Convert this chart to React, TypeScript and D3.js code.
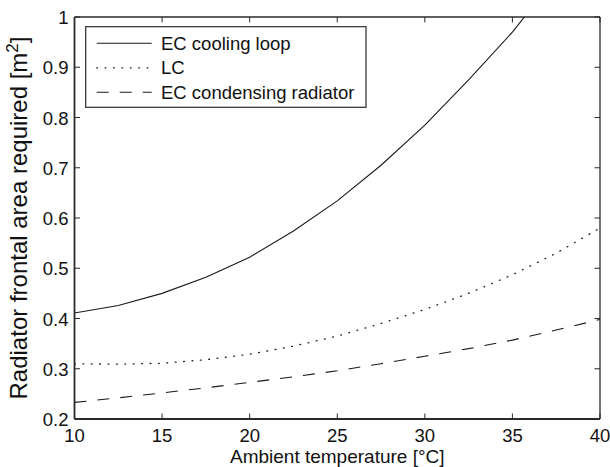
import React from "react";
import * as d3 from "d3";

const temps = [10, 12.5, 15, 17.5, 20, 22.5, 25, 27.5, 30, 32.5, 35, 37.5, 40];
const ecCoolingLoop = [0.411, 0.426, 0.45, 0.482, 0.522, 0.574, 0.634, 0.705, 0.785, 0.875, 0.97, 1.08, 1.2];
const lc = [0.31, 0.309, 0.311, 0.318, 0.329, 0.345, 0.365, 0.39, 0.418, 0.45, 0.487, 0.53, 0.58];
const ecCondensing = [0.233, 0.242, 0.252, 0.262, 0.273, 0.284, 0.296, 0.31, 0.325, 0.34, 0.357, 0.377, 0.398];
const xTicks = [10, 15, 20, 25, 30, 35, 40];
const yTicks = [0.2, 0.3, 0.4, 0.5, 0.6, 0.7, 0.8, 0.9, 1];
const seriesNames = ["EC cooling loop", "LC", "EC condensing radiator"];

const W = 610, H = 467;
const L = 74.5, R = 600, T = 17, B = 419;
const font = "'Liberation Sans', Arial, Helvetica, sans-serif";
const axisColor = "#2a2a2a";
const FS = 18.5;
const LFS = 19;
const YFS = 24;

export default function App() {
  const x = d3.scaleLinear().domain([10, 40]).range([L, R]);
  const y = d3.scaleLinear().domain([0.2, 1]).range([B, T]);
  const line = d3.line<number>().x((_, i) => x(temps[i])).y((d) => y(d));
  const series = [
    { name: seriesNames[0], values: ecCoolingLoop, dash: "none", width: 1.1 },
    { name: seriesNames[1], values: lc, dash: "0.8 7.6", width: 1.3 },
    { name: seriesNames[2], values: ecCondensing, dash: "12 11", width: 1.1 },
  ];
  const tickLen = 5.5;
  const legX = 85.7, legY = 26.7, legW = 366 - 85.7, legH = 107.3 - 26.7;
  return (
    <svg width={W} height={H} style={{ position: "absolute", left: 0, top: 0, background: "#fff" }} fontFamily={font}>
      <defs>
        <clipPath id="plot">
          <rect x={L} y={T} width={R - L} height={B - T} />
        </clipPath>
      </defs>
      <rect x={0} y={0} width={W} height={H} fill="#fff" />
      <g clipPath="url(#plot)">
        {series.map((s) => (
          <path key={s.name} d={line(s.values) || ""} fill="none" stroke="#1a1a1a" strokeWidth={s.width}
            strokeDasharray={s.dash} strokeLinecap={s.name === "LC" ? "round" : "butt"} />
        ))}
      </g>
      {xTicks.map((t) => (
        <g key={"xt" + t}>
          <line x1={x(t)} x2={x(t)} y1={B} y2={B - tickLen} stroke={axisColor} />
          <line x1={x(t)} x2={x(t)} y1={T} y2={T + tickLen} stroke={axisColor} />
          <text x={x(t)} y={442} fontSize={FS} textAnchor="middle" fill="#111">{t}</text>
        </g>
      ))}
      {yTicks.map((t) => (
        <g key={"yt" + t}>
          <line x1={L} x2={L + tickLen} y1={y(t)} y2={y(t)} stroke={axisColor} />
          <line x1={R} x2={R - tickLen} y1={y(t)} y2={y(t)} stroke={axisColor} />
          <text x={L - 6} y={y(t) + 7} fontSize={FS} textAnchor="end" fill="#111">{String(t)}</text>
        </g>
      ))}
      <line x1={L} x2={R} y1={T} y2={T} stroke={axisColor} strokeWidth={1.3} />
      <line x1={R} x2={R} y1={T} y2={B} stroke={axisColor} strokeWidth={1.3} />
      <line x1={L} x2={R} y1={B} y2={B} stroke={axisColor} strokeWidth={1.8} />
      <line x1={L} x2={L} y1={T} y2={B} stroke={axisColor} strokeWidth={1.8} />
      <rect x={legX} y={legY} width={legW} height={legH} fill="#fff" stroke={axisColor} strokeWidth={1.2} />
      {series.map((s, i) => {
        const ly = 43.3 + i * 24.5;
        return (
          <g key={"lg" + s.name}>
            <line x1={96.7} x2={151.7} y1={ly} y2={ly} stroke="#1a1a1a" strokeWidth={s.width}
              strokeDasharray={s.dash} strokeLinecap={s.name === "LC" ? "round" : "butt"} />
            <text x={161} y={ly + 6.6} fontSize={FS} fill="#111">{s.name}</text>
          </g>
        );
      })}
      <text x={(L + R) / 2} y={463} fontSize={LFS} textAnchor="middle" fill="#111">Ambient temperature [°C]</text>
      <text transform={`translate(27, ${(T + B) / 2}) rotate(-90)`} fontSize={YFS} textAnchor="middle" fill="#111">
        Radiator frontal area required [m<tspan dy={-9} fontSize={17}>2</tspan><tspan dy={9}>]</tspan>
      </text>
    </svg>
  );
}
